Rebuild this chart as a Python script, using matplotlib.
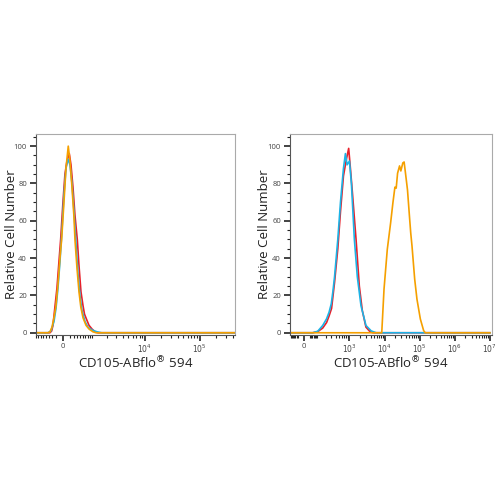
import numpy as np
import matplotlib
matplotlib.use("Agg")
import matplotlib.pyplot as plt
from matplotlib.ticker import FixedLocator, FixedFormatter, MultipleLocator

plt.rcParams['font.family'] = ['Open Sans', 'DejaVu Sans']

# ---- data (fluorescence intensity, relative cell number) ----
# left panel
left_red_x = [-900, -371, -319, -280, -222, -165, -110, -63, 0, 54, 109, 174, 222, 280,
              340, 413, 469, 537, 612, 668, 757, 857, 1000, 1157, 1335, 436000]
left_red_y = [0, 0, 1, 4, 14, 24, 38, 50, 70, 85, 92, 96, 90, 78,
              63, 50, 36, 22, 14.5, 10, 7, 4, 2, 0.5, 0, 0]

left_cyan_x = [-900, -435, -340, -251, -193, -137, -82, -27, 27, 82, 137, 193, 251, 310,
               371, 435, 503, 573, 688, 813, 1000, 1274, 1580, 436000]
left_cyan_y = [0, 0, 1, 6, 13, 24, 38, 55, 74, 88, 93, 90, 80, 65,
               48, 32, 20, 12, 6, 3, 1.5, 0.5, 0, 0]

left_orange_x = [-900, -435, -371, -310, -251, -193, -137, -82, -36, 27, 82, 145, 193, 251,
                 310, 340, 402, 469, 530, 612, 728, 857, 1048, 1218, 436000]
left_orange_y = [0, 0, 0.5, 3, 8, 14.5, 26, 40, 50, 70, 88, 100, 92, 78,
                 62, 50, 35, 22, 14, 8, 4, 2, 0.5, 0, 0]

# right panel
right_red_x = [-105, 62, 105, 159, 213, 254, 302, 371, 462, 553, 673, 818, 951, 1067, 1216,
               1545, 1915, 2325, 2960, 3905, 4745, 1e7]
right_red_y = [0, 0, 0.6, 2.5, 5.5, 9, 13, 27, 45, 65, 84, 93, 98.8, 88, 75,
               50, 25, 12, 3, 0.5, 0, 0]

right_cyan_x = [-105, 62, 105, 159, 213, 254, 296, 331, 371, 462, 553, 673, 767, 856, 1000,
                1138, 1383, 1680, 2137, 2960, 4170, 5770, 1e7]
right_cyan_y = [0, 0, 0.8, 3.9, 7.5, 11, 15.5, 22, 30, 50, 70, 88, 96, 90, 92,
                80, 50, 30, 14.5, 3.9, 1, 0, 0]

right_orange_x = [-105, 8340, 9680, 12000, 14950, 17350, 19760, 21500, 23550, 26800, 29170,
                  33200, 36130, 39560, 45080, 51300, 55760, 60680, 72300, 83900, 104700,
                  129700, 144500, 1e7]
right_orange_y = [0, 0, 23.4, 44.7, 59, 69.7, 78, 77.5, 85.5, 89.4, 86.7,
                  91, 91.5, 85.5, 76.6, 62.4, 53.5, 46.4, 28.7, 18, 7.4,
                  1.2, 0, 0]

y_ticks = [0, 20, 40, 60, 80, 100]
xlabel = "CD105-ABflo$^{\u00ae}$ 594"
ylabel = "Relative Cell Number"

RED = "#e8202a"
CYAN = "#1cb3e6"
ORANGE = "#f5a000"


def asinh_scale(w):
    return (lambda x: np.arcsinh(np.asarray(x, float) / w),
            lambda u: w * np.sinh(np.asarray(u, float)))


def minor_ticks(lo, hi, w):
    vals = []
    for e in range(1, 8):
        for k in range(1, 10):
            for s in (-1, 1):
                v = s * k * 10 ** e
                if lo <= v <= hi and abs(v) >= w * 0.3:
                    vals.append(v)
    return sorted(vals)


def style_axes(ax, w, xlim, majors, labels):
    ax.set_xscale('function', functions=asinh_scale(w))
    ax.set_xlim(*xlim)
    ax.set_ylim(-1.2, 106.5)
    ax.xaxis.set_major_locator(FixedLocator(majors))
    ax.xaxis.set_major_formatter(FixedFormatter(labels))
    ax.xaxis.set_minor_locator(FixedLocator(minor_ticks(xlim[0], xlim[1], w)))
    ax.yaxis.set_major_locator(FixedLocator(y_ticks))
    ax.yaxis.set_minor_locator(MultipleLocator(5))
    ax.tick_params(axis='both', which='major', length=4, width=1.2, color='#222',
                   labelsize=5.5, labelcolor='#444', pad=2.5)
    ax.tick_params(axis='x', which='major', pad=1.5)
    ax.tick_params(axis='both', which='minor', length=2, width=0.8, color='#222')
    for side in ('left', 'bottom'):
        ax.spines[side].set_color('#555')
        ax.spines[side].set_linewidth(0.8)
    for side in ('top', 'right'):
        ax.spines[side].set_color('#aaa')
        ax.spines[side].set_linewidth(0.8)
    ax.set_xlabel(xlabel, fontsize=9.5, color='#222')
    ax.set_ylabel(ylabel, fontsize=9.5, color='#222', va='center')
    ax.xaxis.set_label_coords(0.5, -0.1)


fig = plt.figure(figsize=(5, 5), dpi=100)
ax1 = fig.add_axes([0.072, 0.33, 0.398, 0.402])
ax2 = fig.add_axes([0.58, 0.33, 0.404, 0.402])

ax1.plot(left_red_x, left_red_y, color=RED, lw=1.2)
ax1.plot(left_cyan_x, left_cyan_y, color=CYAN, lw=1.2)
ax1.plot(left_orange_x, left_orange_y, color=ORANGE, lw=1.2)
style_axes(ax1, 650, (-900, 436000), [0, 1e4, 1e5],
           ["0", r"$10^{4}$", r"$10^{5}$"])
ax1.yaxis.set_label_coords(-0.122, 0.5)

ax2.plot(right_red_x, right_red_y, color=RED, lw=1.2)
ax2.plot(right_cyan_x, right_cyan_y, color=CYAN, lw=1.2)
ax2.plot(right_orange_x, right_orange_y, color=ORANGE, lw=1.2)
style_axes(ax2, 101, (-105, 1.15e7), [0, 1e3, 1e4, 1e5, 1e6, 1e7],
           ["0", r"$10^{3}$", r"$10^{4}$", r"$10^{5}$", r"$10^{6}$", r"$10^{7}$"])
ax2.yaxis.set_label_coords(-0.124, 0.5)

fig.savefig("out.png", dpi=100)
